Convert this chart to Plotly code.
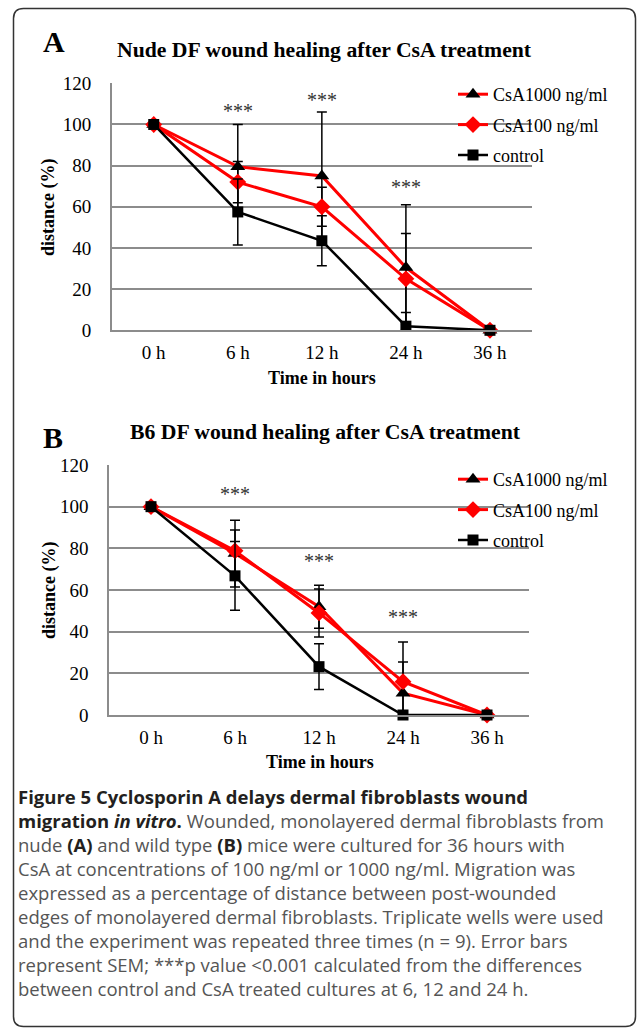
import plotly.graph_objects as go

W, H = 637, 1028

# ---------------- data ----------------
categories = ["0 h", "6 h", "12 h", "24 h", "36 h"]

a_csa1000 = [100, 79.5, 75, 30.5, 0]
a_csa1000_err = [0, 20.5, 31, 30.5, 0]
a_csa100 = [100, 72, 60, 25, 0]
a_csa100_err = [0, 10, 9.5, 22, 0]
a_control = [100, 57.5, 43.5, 2, 0]
a_control_err = [0, 16, 12.2, 6.6, 0]

b_csa1000 = [100, 77.5, 52, 10.5, 0]
b_csa1000_err = [0, 16, 10.3, 15, 0]
b_csa100 = [100, 78.8, 49, 16, 0]
b_csa100_err = [0, 10, 11.5, 19, 0]
b_control = [100, 66.8, 23.2, 0, 0]
b_control_err = [0, 16.5, 11, 0, 0]

series_names = ["CsA1000 ng/ml", "CsA100 ng/ml", "control"]
a_signif = [("6 h", 108.4), ("12 h", 114), ("24 h", 71.8)]
b_signif = [("6 h", 108), ("12 h", 76), ("24 h", 49)]

titles = ["Nude DF wound healing after CsA treatment",
          "B6 DF wound healing after CsA treatment"]
panel_letters = ["A", "B"]

B0 = '<span style="color:#231f20"><b>'
B1 = '</b></span>'
caption_lines = [
    B0 + "Figure 5 Cyclosporin A delays dermal fibroblasts wound" + B1,
    B0 + "migration <i>in vitro</i>." + B1 + " Wounded, monolayered dermal fibroblasts from",
    "nude " + B0 + "(A)" + B1 + " and wild type " + B0 + "(B)" + B1 + " mice were cultured for 36 hours with",
    "CsA at concentrations of 100 ng/ml or 1000 ng/ml. Migration was",
    "expressed as a percentage of distance between post-wounded",
    "edges of monolayered dermal fibroblasts. Triplicate wells were used",
    "and the experiment was repeated three times (n = 9). Error bars",
    "represent SEM; ***p value &lt;0.001 calculated from the differences",
    "between control and CsA treated cultures at 6, 12 and 24 h.",
]

# ---------------- helpers ----------------
def px(x):
    return x / W

def py(y):
    return 1 - y / H

SERIF = "Liberation Serif"
RED = "#ff0000"
GRID = "#8c8c8c"

styles = [
    dict(line=dict(color=RED, width=3), marker=dict(symbol="triangle-up", size=13, color="black")),
    dict(line=dict(color=RED, width=3), marker=dict(symbol="diamond", size=13, color=RED)),
    dict(line=dict(color="black", width=2.5), marker=dict(symbol="square", size=11, color="black")),
]

fig = go.Figure()

panels = [
    (dict(vals=[a_csa1000, a_csa100, a_control], errs=[a_csa1000_err, a_csa100_err, a_control_err]), "x", "y", "legend"),
    (dict(vals=[b_csa1000, b_csa100, b_control], errs=[b_csa1000_err, b_csa100_err, b_control_err]), "x2", "y2", "legend2"),
]

for pdata, xa, ya, lg in panels:
    for k, (name, vals, errs, st) in enumerate(zip(series_names, pdata["vals"], pdata["errs"], styles)):
        fig.add_trace(go.Scatter(
            x=categories, y=vals, name=name, mode="lines+markers",
            line=st["line"], marker=st["marker"],
            error_y=dict(type="data", array=errs,
                         arrayminus=[min(e, v) for e, v in zip(errs, vals)],
                         color="black", thickness=1.5, width=5, visible=True),
            xaxis=xa, yaxis=ya, legend=lg, legendgroup="%s_%d" % (lg, k), cliponaxis=False,
        ))

axis_common_x = dict(type="category", categoryorder="array", categoryarray=categories,
                     range=[-0.5, 4.5], showgrid=False, showline=True, linecolor=GRID,
                     linewidth=1.5, ticks="", ticklabelstandoff=4, automargin=False,
                     tickfont=dict(family=SERIF, size=19, color="black"), fixedrange=True)
axis_common_y = dict(range=[0, 120], dtick=20, showgrid=True, gridcolor=GRID, gridwidth=1.5,
                     showline=True, linecolor=GRID, linewidth=1.5, zeroline=False, ticks="",
                     ticklabelstandoff=15, automargin=False,
                     tickfont=dict(family=SERIF, size=19, color="black"), fixedrange=True)

legend_common = dict(xanchor="left", yanchor="top",
                     font=dict(family=SERIF, size=18, color="black"),
                     bgcolor="rgba(0,0,0,0)", tracegroupgap=4, itemwidth=30)

fig.update_layout(
    template="none",
    width=W, height=H, margin=dict(l=0, r=0, t=0, b=0, autoexpand=False),
    paper_bgcolor="white", plot_bgcolor="white",
    xaxis=dict(domain=[px(111.7), px(532)], anchor="y", **axis_common_x),
    yaxis=dict(domain=[py(330.3), py(83.3)], anchor="x", **axis_common_y),
    xaxis2=dict(domain=[px(109), px(529)], anchor="y2", **axis_common_x),
    yaxis2=dict(domain=[py(715), py(465)], anchor="x2", **axis_common_y),
    legend=dict(x=px(453), y=py(76), **legend_common),
    legend2=dict(x=px(453), y=py(461), **legend_common),
    showlegend=True,
)

def paper_text(text, x, y, size, angle=0, color="black", family=SERIF):
    return dict(text=text, x=px(x), y=py(y), xref="paper", yref="paper",
                xanchor="center", yanchor="middle", textangle=angle, showarrow=False,
                font=dict(family=family, size=size, color=color))

ann = []
for letter, (lx, ly) in zip(panel_letters, [(54, 42), (53, 437)]):
    ann.append(paper_text("<b>%s</b>" % letter, lx, ly, 30))
for t, (tx, ty) in zip(titles, [(324, 50), (325, 432)]):
    ann.append(paper_text("<b>%s</b>" % t, tx, ty, 21.7))
for (tx, ty) in [(322, 378), (320, 762)]:
    ann.append(paper_text("<b>Time in hours</b>", tx, ty, 18))
for (tx, ty) in [(49, 207), (49, 590)]:
    ann.append(paper_text("<b>distance (%)</b>", tx, ty, 18, angle=-90))
# significance stars
for sig, xr, yr in [(a_signif, "x", "y"), (b_signif, "x2", "y2")]:
    for cat, yv in sig:
        ann.append(dict(text="***", x=cat, y=yv, xref=xr, yref=yr, showarrow=False,
                        xanchor="center", yanchor="middle",
                        yshift=-4, font=dict(family=SERIF, size=20, color="#333333")))
# caption as one multi-line text block
ann.append(dict(text="<br>".join(caption_lines), x=px(16), y=py(892), xref="paper", yref="paper",
                xanchor="left", yanchor="middle", align="left", showarrow=False,
                font=dict(family="Open Sans", size=18.5, color="#555555")))
fig.update_layout(annotations=ann)

# rounded border
x0, y0, x1, y1, r = px(13.5), py(8.5), px(635.5), py(1026.5), 10
rx, ry = r / W, r / H
path = (f"M {x0+rx},{y0} L {x1-rx},{y0} Q {x1},{y0} {x1},{y0-ry} "
        f"L {x1},{y1+ry} Q {x1},{y1} {x1-rx},{y1} L {x0+rx},{y1} Q {x0},{y1} {x0},{y1+ry} "
        f"L {x0},{y0-ry} Q {x0},{y0} {x0+rx},{y0} Z")
fig.add_shape(type="path", path=path, xref="paper", yref="paper",
              line=dict(color="#333333", width=1.5), fillcolor="rgba(0,0,0,0)")

fig.write_html("out.html", config=dict(displayModeBar=False, responsive=False),
               post_script="document.body.style.margin='0';document.body.style.overflow='hidden';")
